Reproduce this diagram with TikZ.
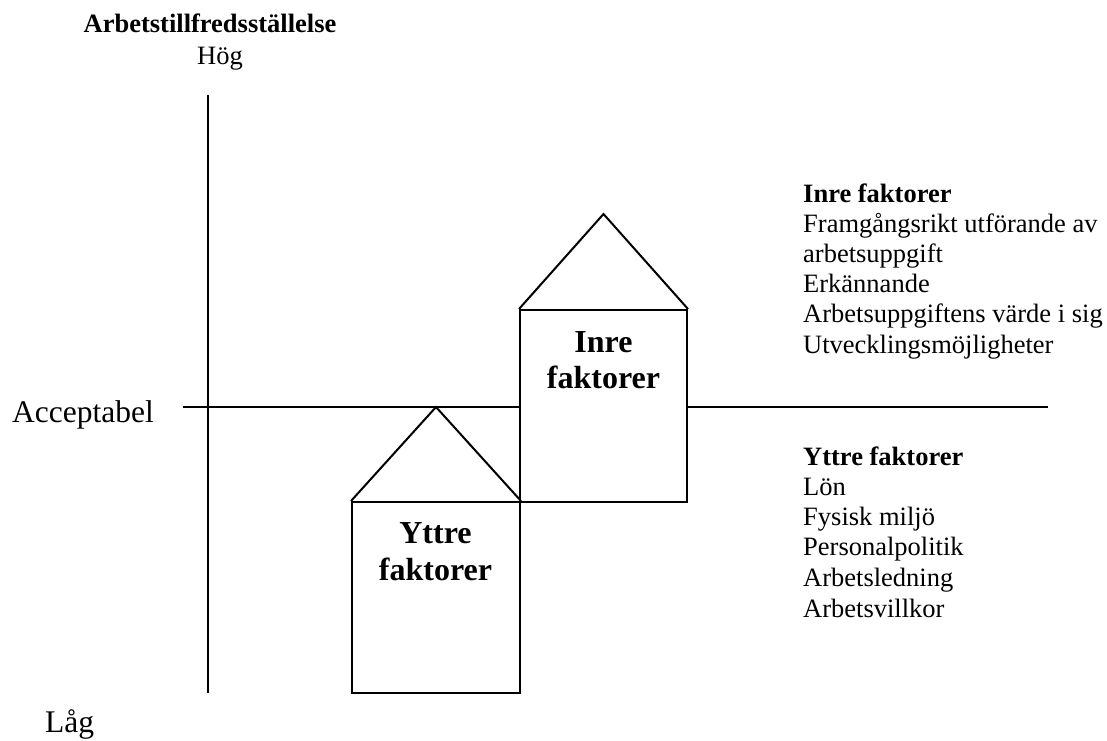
\documentclass[tikz,border=0pt]{standalone}
\usepackage{fontspec}
\setmainfont{Liberation Serif}
\begin{document}
\begin{tikzpicture}[x=1pt,y=-1pt,
  axis/.style={line width=2pt, line cap=butt},
  housebox/.style={draw, line width=2pt, fill=white, inner sep=0pt, line join=miter},
  roof/.style={line width=2pt, line join=miter},
  txt/.style={inner sep=0pt, font=\fontsize{26.5}{30}\selectfont},
  big/.style={inner sep=0pt, font=\fontsize{31.5}{36}\selectfont},
  boxlbl/.style={inner sep=0pt, anchor=base, font=\fontsize{32}{36}\selectfont\bfseries}]
\useasboundingbox (0,0) rectangle (1107,740);
% axes
\coordinate (vtop) at (208,95);
\coordinate (vbot) at (208,693);
\coordinate (hl) at (183,407);
\coordinate (hr) at (1048,407);
\draw[axis] (vtop) -- (vbot);
\draw[axis] (hl) -- (hr);
% inner house
\node[housebox, minimum width=167pt, minimum height=192pt] (inre) at (603.5,406) {};
\coordinate (inreApex) at (603.5,214);
\draw[roof] (inre.north west) -- (inreApex) -- (inre.north east);
% outer house
\node[housebox, minimum width=168pt, minimum height=191pt] (yttre) at (436,597.5) {};
\coordinate (yttreApex) at (436,407);
\draw[roof] (yttre.north west) -- (yttreApex) -- (yttre.north east);
% box labels
\node[boxlbl] (inreL1) at (603.5,352) {Inre};
\node[boxlbl] (inreL2) at (603.5,388) {faktorer};
\node[boxlbl] (yttreL1) at (435.5,543) {Yttre};
\node[boxlbl] (yttreL2) at (435.5,580) {faktorer};
% axis labels
\node[txt, anchor=base, font=\fontsize{26.5}{30}\selectfont\bfseries] (title) at (210,32) {Arbetstillfredsställelse};
\node[txt, anchor=base] (hog) at (220,64) {Hög};
\node[big, anchor=base west] (acc) at (12,422) {Acceptabel};
\node[big, anchor=base west] (lag) at (45,732) {Låg};
% right lists
\node[txt, anchor=base west, font=\fontsize{26.5}{30}\selectfont\bfseries] (ih) at (803,202) {Inre faktorer};
\node[txt, anchor=base west] (i1) at (803,232) {Framgångsrikt utförande av};
\node[txt, anchor=base west] (i2) at (803,262) {arbetsuppgift};
\node[txt, anchor=base west] (i3) at (803,292) {Erkännande};
\node[txt, anchor=base west] (i4) at (803,322) {Arbetsuppgiftens värde i sig};
\node[txt, anchor=base west] (i5) at (803,353) {Utvecklingsmöjligheter};
\node[txt, anchor=base west, font=\fontsize{26.5}{30}\selectfont\bfseries] (yh) at (803,465) {Yttre faktorer};
\node[txt, anchor=base west] (y1) at (803,495) {Lön};
\node[txt, anchor=base west] (y2) at (803,525) {Fysisk miljö};
\node[txt, anchor=base west] (y3) at (803,555) {Personalpolitik};
\node[txt, anchor=base west] (y4) at (803,586) {Arbetsledning};
\node[txt, anchor=base west] (y5) at (803,617) {Arbetsvillkor};
\end{tikzpicture}
\end{document}
